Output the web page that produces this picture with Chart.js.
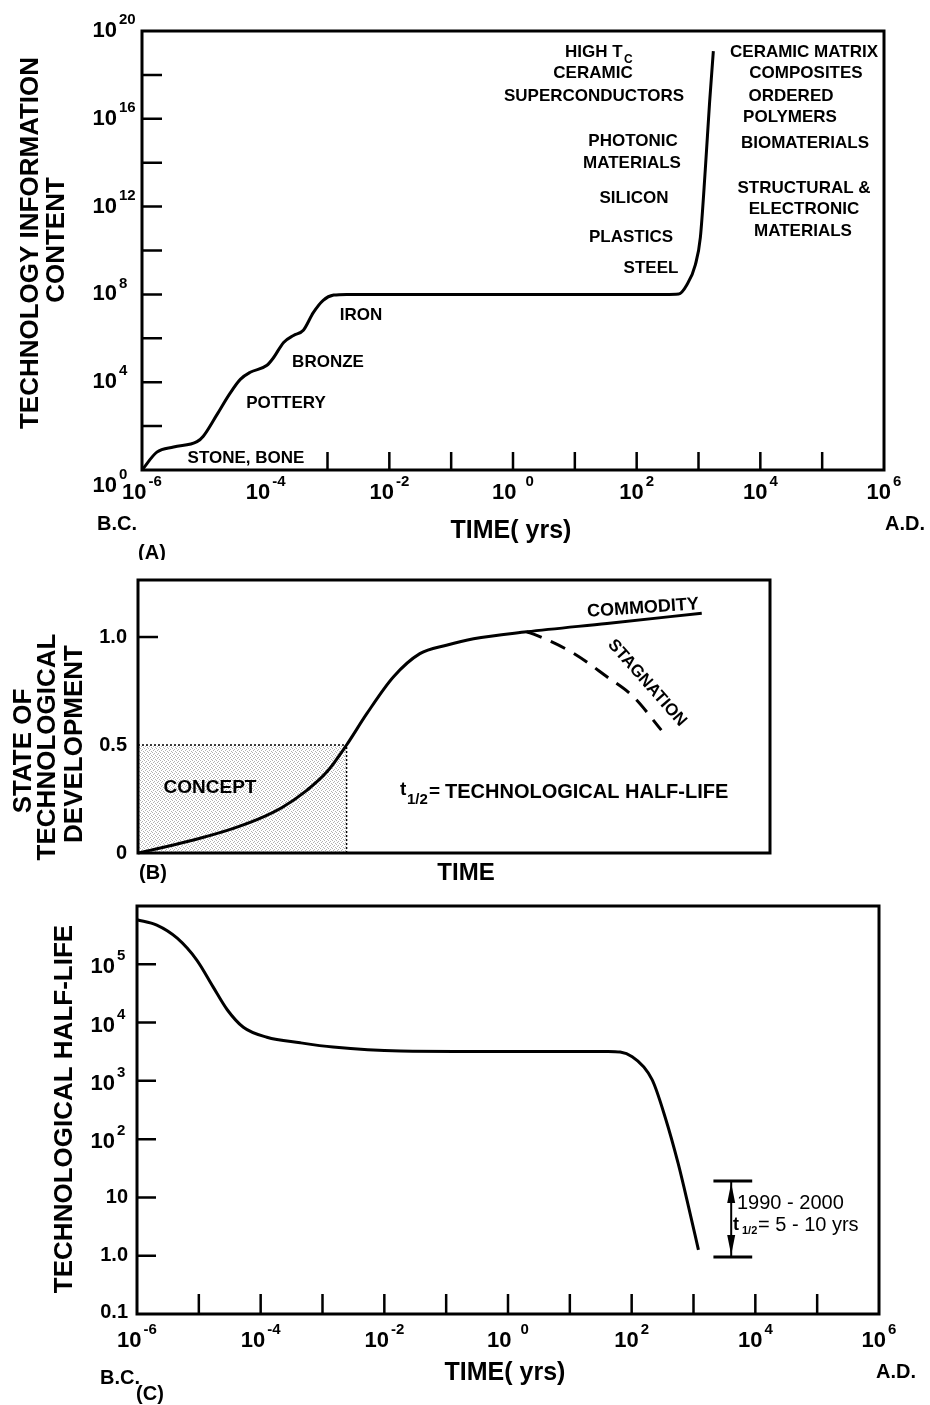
<!DOCTYPE html>
<html>
<head>
<meta charset="utf-8">
<title>Technology information content, development and half-life</title>
<script src="https://cdn.jsdelivr.net/npm/chart.js@4.4.0/dist/chart.umd.min.js"></script>
<style>
  html, body { margin: 0; padding: 0; background: #fff; }
  body { position: relative; width: 930px; height: 1405px; overflow: hidden; }
  canvas { position: absolute; left: 0; }
</style>
</head>
<body>
<canvas id="chartA" width="930" height="560" style="top:0"></canvas>
<canvas id="chartB" width="930" height="330" style="top:560px"></canvas>
<canvas id="chartC" width="930" height="515" style="top:890px"></canvas>
<script>
// (A) technology information content vs time (log-log)
const infoTime = [1e-6, 1.74e-6, 3.24e-6, 7.76e-6, 9.8e-6, 1.62e-5, 2.63e-5, 3.89e-5, 5.62e-5,
    1.05e-4, 1.32e-4, 1.95e-4, 2.82e-4, 4.07e-4, 5.89e-4, 8.51e-4, 1.26e-3, 2.04e-3,
    0.1, 10, 288, 479, 646, 891, 1072, 1288, 1514, 1738];
const infoContent = [1, 6.5, 11.2, 19.5, 34.7, 324, 3020, 1.35e4, 2.82e4,
    5.9e4, 1.23e5, 6.5e5, 1.35e6, 2.34e6, 1.48e7, 5.4e7, 9.3e7, 1e8,
    1e8, 1e8, 1e8, 1.05e8, 2.7e8, 2.3e9, 4e10, 4.9e13, 6e16, 1.2e19];
const infoYTicks = [1e2, 1e4, 1e6, 1e8, 1e10, 1e12, 1e14, 1e16, 1e18];
const infoYLabelValues = [1, 1e4, 1e8, 1e12, 1e16, 1e20];
const infoYLabels = ['10^0', '10^4', '10^8', '10^12', '10^16', '10^20'];
const infoXTicks = [1e-3, 1e-2, 1e-1, 1, 10, 100, 1e3, 1e4, 1e5];

// shared time axis labels for (A) and (C)
const timeLabelValues = [1e-6, 1e-4, 1e-2, 1, 1e2, 1e4, 1e6];
const timeLabels = ['10^-6', '10^-4', '10^-2', '10^0', '10^2', '10^4', '10^6'];

// (B) state of technological development vs time (schematic, linear)
const devTime = [0, 5.6, 9.8, 15.1, 19.3, 23, 26.7, 29.9, 33, 36.2, 40.4, 44.6, 48.8, 53.1, 61.5, 74.2, 89.2];
const devState = [0, 0.037, 0.068, 0.114, 0.16, 0.214, 0.29, 0.376, 0.5, 0.645, 0.815, 0.923, 0.962, 0.992, 1.024, 1.063, 1.11];
const stagTime = [61.5, 63, 68.9, 74.2, 78.4, 82.8];
const stagState = [1.024, 1.009, 0.925, 0.816, 0.723, 0.569];
const conceptSpan = [0, 33];
const conceptLevel = 0.5;
const devYTicks = [0, 0.5, 1.0];
const devYLabels = ['0', '0.5', '1.0'];

// (C) technological half-life vs time (log-log)
const halfTime = [1e-6, 2.09e-6, 4.47e-6, 9.33e-6, 1.70e-5, 2.88e-5, 5.25e-5, 1.26e-4, 4.37e-4,
    1.48e-3, 1.82e-2, 0.204, 41.7, 102, 214, 347, 562, 832, 1202];
const halfLife = [5.8e5, 4.7e5, 2.8e5, 1.17e5, 4.1e4, 1.66e4, 8.3e3, 5.6e3, 4.5e3,
    3.8e3, 3.25e3, 3.2e3, 3.2e3, 2.6e3, 1.05e3, 240, 39, 6.9, 1.26];
const halfYTicks = [0.1, 1, 10, 1e2, 1e3, 1e4, 1e5];
const halfYLabels = ['0.1', '1.0', '10', '10^2', '10^3', '10^4', '10^5'];
const halfXTicks = [1e-5, 1e-4, 1e-3, 1e-2, 1e-1, 1, 10, 100, 1e3, 1e4, 1e5];
const bracketTime = [2100, 8900];
const bracketMid = 4070;
const bracketRange = [19.2, 0.95];

const FAM = "'Liberation Sans', Arial, Helvetica, sans-serif";

function setFont(ctx, size, weight) {
    ctx.font = (weight || 'bold') + ' ' + size + 'px ' + FAM;
}

function label(ctx, str, x, y, size, align, weight) {
    setFont(ctx, size, weight);
    ctx.textAlign = align || 'center';
    ctx.textBaseline = 'middle';
    ctx.fillText(str, x, y);
}

function rotated(ctx, str, x, y, size, deg) {
    ctx.save();
    ctx.translate(x, y);
    ctx.rotate(deg * Math.PI / 180);
    label(ctx, str, 0, 0, size);
    ctx.restore();
}

// "10^e" drawn as base with a raised exponent
function power(ctx, str, x, y, mode, gap) {
    const parts = str.split('^');
    if (parts.length < 2) {
        label(ctx, str, x, y, 20, 'right');
        return;
    }
    setFont(ctx, 22);
    const wb = ctx.measureText(parts[0]).width;
    setFont(ctx, 15);
    const ws = ctx.measureText(parts[1]).width;
    const left = mode === 'center' ? x - (wb + gap + ws) / 2 : x - wb;
    label(ctx, parts[0], left, y, 22, 'left');
    label(ctx, parts[1], left + wb + gap, y - 11, 15, 'left');
}

function frame(ctx, a) {
    ctx.lineWidth = 3;
    ctx.strokeRect(a.left, a.top, a.right - a.left, a.bottom - a.top);
}

function ticksY(ctx, chart, values, len) {
    const a = chart.chartArea, s = chart.scales.y;
    ctx.beginPath();
    values.forEach(v => {
        const p = s.getPixelForValue(v);
        ctx.moveTo(a.left, p);
        ctx.lineTo(a.left + len, p);
    });
    ctx.lineWidth = 2.5;
    ctx.stroke();
}

function ticksX(ctx, chart, values, len) {
    const a = chart.chartArea, s = chart.scales.x;
    ctx.beginPath();
    values.forEach(v => {
        const p = s.getPixelForValue(v);
        ctx.moveTo(p, a.bottom);
        ctx.lineTo(p, a.bottom - len);
    });
    ctx.lineWidth = 2.5;
    ctx.stroke();
}

function timeAxisLabels(ctx, chart, dy) {
    const xs = chart.scales.x, a = chart.chartArea;
    timeLabelValues.forEach((v, i) => {
        const gap = timeLabels[i].endsWith('^0') ? 9 : 2;
        power(ctx, timeLabels[i], xs.getPixelForValue(v), a.bottom + dy, 'center', gap);
    });
}

function points(xs, ys) {
    return xs.map((x, i) => ({ x: x, y: ys[i] }));
}

function stipple(ctx) {
    const c = document.createElement('canvas');
    c.width = 4;
    c.height = 4;
    const g = c.getContext('2d');
    g.fillStyle = 'rgba(0,0,0,0.3)';
    [[0, 0], [2, 1], [1, 2], [3, 3]].forEach(p => g.fillRect(p[0], p[1], 1, 1));
    return ctx.createPattern(c, 'repeat');
}

const lineStyle = {
    borderColor: '#000',
    borderWidth: 3,
    pointRadius: 0,
    fill: false,
    clip: false,
    cubicInterpolationMode: 'monotone'
};

function baseOptions(padding, xScale, yScale) {
    return {
        responsive: false,
        animation: false,
        events: [],
        layout: { padding: padding },
        plugins: { legend: { display: false }, tooltip: { enabled: false } },
        scales: { x: Object.assign({ display: false }, xScale), y: Object.assign({ display: false }, yScale) }
    };
}

const panelA = {
    id: 'panelA',
    afterDraw(chart) {
        const ctx = chart.ctx, a = chart.chartArea, ys = chart.scales.y;
        ctx.save();
        ctx.fillStyle = '#000';
        ctx.strokeStyle = '#000';
        frame(ctx, a);
        ticksY(ctx, chart, infoYTicks, 20);
        ticksX(ctx, chart, infoXTicks, 18);

        infoYLabelValues.forEach((v, i) => {
            const shift = v === 1 ? 16 : 0;
            power(ctx, infoYLabels[i], a.left - 25, ys.getPixelForValue(v) + shift, 'base', 2);
        });
        timeAxisLabels(ctx, chart, 23);

        rotated(ctx, 'TECHNOLOGY INFORMATION', 31, 243, 26, -90);
        rotated(ctx, 'CONTENT', 57, 240, 26, -90);

        label(ctx, 'HIGH T', 565, 52, 17, 'left');
        label(ctx, 'C', 624, 60, 12, 'left');
        [
            ['CERAMIC', 593, 73], ['SUPERCONDUCTORS', 594, 96],
            ['PHOTONIC', 633, 141], ['MATERIALS', 632, 163],
            ['SILICON', 634, 198], ['PLASTICS', 631, 237], ['STEEL', 651, 268],
            ['CERAMIC MATRIX', 804, 52], ['COMPOSITES', 806, 73],
            ['ORDERED', 791, 96], ['POLYMERS', 790, 117], ['BIOMATERIALS', 805, 143],
            ['STRUCTURAL &', 804, 188], ['ELECTRONIC', 804, 209], ['MATERIALS', 803, 231],
            ['IRON', 361, 315], ['BRONZE', 328, 362], ['POTTERY', 286, 403],
            ['STONE, BONE', 246, 458]
        ].forEach(t => label(ctx, t[0], t[1], t[2], 17));

        label(ctx, 'B.C.', 117, 524, 20);
        label(ctx, 'A.D.', 905, 524, 20);
        label(ctx, 'TIME( yrs)', 511, 531, 25);
        label(ctx, '(A)', 152, 553, 20);
        ctx.restore();
    }
};

const panelB = {
    id: 'panelB',
    afterDraw(chart) {
        const ctx = chart.ctx, a = chart.chartArea, ys = chart.scales.y;
        ctx.save();
        ctx.fillStyle = '#000';
        ctx.strokeStyle = '#000';
        frame(ctx, a);
        ticksY(ctx, chart, [1.0], 20);
        devYTicks.forEach((v, i) => label(ctx, devYLabels[i], a.left - 11, ys.getPixelForValue(v), 20, 'right'));

        rotated(ctx, 'STATE OF', 24, 191, 26, -90);
        rotated(ctx, 'TECHNOLOGICAL', 48, 187, 26, -90);
        rotated(ctx, 'DEVELOPMENT', 75, 184, 26, -90);

        label(ctx, 'CONCEPT', 210, 228, 19);
        label(ctx, 't', 400, 230, 19, 'left');
        label(ctx, '1/2', 407, 240, 15, 'left');
        label(ctx, '=', 429, 232, 19, 'left');
        label(ctx, 'TECHNOLOGICAL HALF-LIFE', 445, 232, 20, 'left');

        rotated(ctx, 'COMMODITY', 643, 48, 18, -4);
        rotated(ctx, 'STAGNATION', 647, 123, 17, 48.6);

        label(ctx, '(B)', 153, 313, 20);
        label(ctx, 'TIME', 466, 313, 24);
        ctx.restore();
    }
};

const panelC = {
    id: 'panelC',
    afterDraw(chart) {
        const ctx = chart.ctx, a = chart.chartArea, xs = chart.scales.x, ys = chart.scales.y;
        ctx.save();
        ctx.fillStyle = '#000';
        ctx.strokeStyle = '#000';
        frame(ctx, a);
        ticksY(ctx, chart, halfYTicks.slice(1), 19);
        ticksX(ctx, chart, halfXTicks, 20);

        halfYTicks.forEach((v, i) => {
            const y = Math.min(ys.getPixelForValue(v), a.bottom - 2);
            if (halfYLabels[i].includes('^')) {
                power(ctx, halfYLabels[i], a.left - 22, y + 3, 'base', 2);
            } else {
                label(ctx, halfYLabels[i], a.left - 9, y, 20, 'right');
            }
        });
        timeAxisLabels(ctx, chart, 27);

        rotated(ctx, 'TECHNOLOGICAL HALF-LIFE', 65, 219, 26, -90);

        // 1990 - 2000 bracket
        const x0 = xs.getPixelForValue(bracketTime[0]);
        const x1 = xs.getPixelForValue(bracketTime[1]);
        const xm = xs.getPixelForValue(bracketMid);
        const yt = ys.getPixelForValue(bracketRange[0]);
        const yb = ys.getPixelForValue(bracketRange[1]);
        ctx.beginPath();
        ctx.moveTo(x0, yt); ctx.lineTo(x1, yt);
        ctx.moveTo(x0, yb); ctx.lineTo(x1, yb);
        ctx.lineWidth = 3;
        ctx.stroke();
        ctx.beginPath();
        ctx.moveTo(xm, yt); ctx.lineTo(xm, yb);
        ctx.lineWidth = 2;
        ctx.stroke();
        ctx.beginPath();
        ctx.moveTo(xm, yt + 2); ctx.lineTo(xm - 4, yt + 22); ctx.lineTo(xm + 4, yt + 22); ctx.closePath();
        ctx.moveTo(xm, yb - 2); ctx.lineTo(xm - 4, yb - 22); ctx.lineTo(xm + 4, yb - 22); ctx.closePath();
        ctx.fill();

        label(ctx, '1990 - 2000', 737, 313, 20, 'left', 'normal');
        label(ctx, 't', 733, 335, 18, 'left', 'bold');
        label(ctx, '1/2', 742, 341, 11, 'left', 'bold');
        label(ctx, '= 5 - 10 yrs', 758, 335, 20, 'left', 'normal');

        label(ctx, 'B.C.', 120, 488, 20);
        label(ctx, 'A.D.', 896, 482, 20);
        label(ctx, 'TIME( yrs)', 505, 483, 25);
        label(ctx, '(C)', 150, 504, 20);
        ctx.restore();
    }
};

const logTime = { type: 'logarithmic', min: 1e-6, max: 1e6 };

new Chart(document.getElementById('chartA'), {
    type: 'line',
    data: { datasets: [Object.assign({ data: points(infoTime, infoContent) }, lineStyle)] },
    options: baseOptions({ left: 142, top: 31, right: 46, bottom: 90 }, logTime,
        { type: 'logarithmic', min: 1, max: 1e20 }),
    plugins: [panelA]
});

const ctxB = document.getElementById('chartB').getContext('2d');
new Chart(ctxB, {
    type: 'line',
    data: {
        datasets: [
            Object.assign({ data: points(devTime, devState), order: 0 }, lineStyle),
            Object.assign({}, lineStyle, {
                data: points(stagTime, stagState), borderDash: [16, 10], order: 1
            }),
            {
                data: points(conceptSpan, [conceptLevel, conceptLevel]),
                borderColor: '#000', borderWidth: 1.5, borderDash: [2, 2], pointRadius: 0,
                fill: 'origin', backgroundColor: stipple(ctxB), tension: 0, order: 5
            },
            {
                data: points([conceptSpan[1], conceptSpan[1]], [0, conceptLevel]),
                borderColor: '#000', borderWidth: 1.5, borderDash: [2, 2], pointRadius: 0,
                fill: false, tension: 0, order: 4
            }
        ]
    },
    options: baseOptions({ left: 138, top: 20, right: 160, bottom: 37 },
        { type: 'linear', min: 0, max: 100 },
        { type: 'linear', min: 0, max: 1.264 }),
    plugins: [panelB]
});

new Chart(document.getElementById('chartC'), {
    type: 'line',
    data: { datasets: [Object.assign({ data: points(halfTime, halfLife) }, lineStyle)] },
    options: baseOptions({ left: 137, top: 16, right: 51, bottom: 91 }, logTime,
        { type: 'logarithmic', min: 0.1, max: 1e6 }),
    plugins: [panelC]
});
</script>
</body>
</html>
